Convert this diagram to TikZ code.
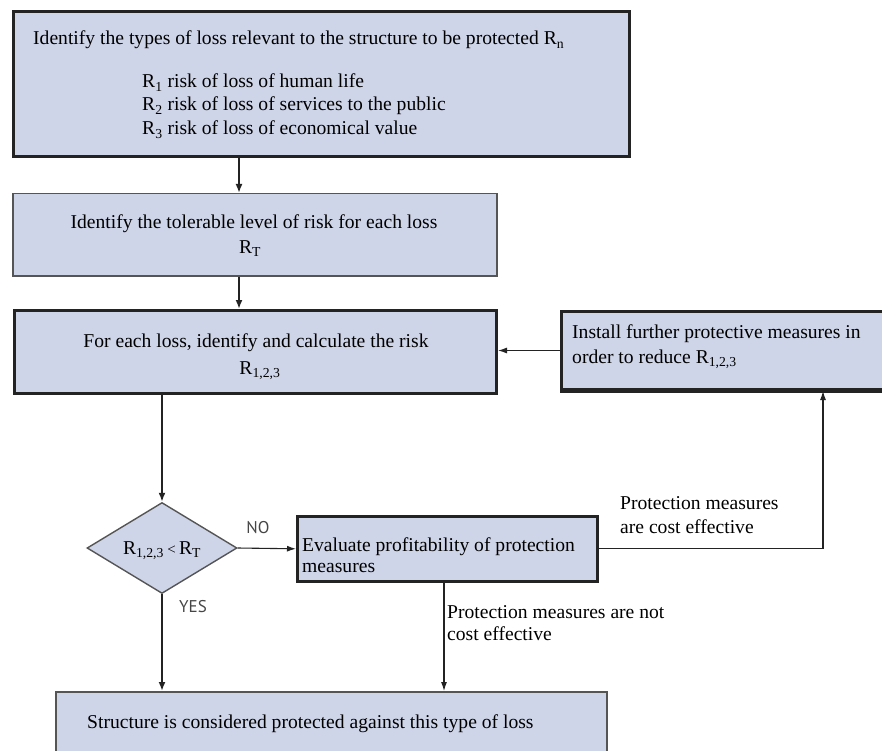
\documentclass[tikz,border=0pt]{standalone}
\usepackage{fontspec}
\setmainfont{Liberation Serif}
\newfontfamily\tagfont{PT Sans}
\usetikzlibrary{arrows.meta,shapes.geometric}
\definecolor{boxfill}{RGB}{207,213,232}
\definecolor{edgedark}{RGB}{35,35,35}
\definecolor{edgesoft}{RGB}{85,85,85}
\definecolor{tagcol}{RGB}{70,70,70}
\begin{document}
\begin{tikzpicture}[x=1pt,y=-1pt,
  every node/.style={font=\fontsize{19.6}{23}\selectfont},
  heavybox/.style={draw=edgedark, fill=boxfill, line width=3pt, inner sep=0pt, anchor=north west},
  lightbox/.style={draw=edgesoft, fill=boxfill, line width=1.5pt, inner sep=0pt, anchor=north west},
  decision/.style={diamond, draw=edgesoft, fill=boxfill, line width=1.4pt, inner sep=0pt, aspect=1.65},
  txt/.style={inner sep=0pt, anchor=base west},
  ctxt/.style={inner sep=0pt, anchor=base},
  tag/.style={inner sep=0pt, text=tagcol, font=\tagfont\fontsize{17}{20}\selectfont},
  mainflow/.style={draw=edgedark, line width=2.2pt, -{Latex[length=9pt,width=7pt]}},
  sideflow/.style={draw=edgedark, line width=1.1pt, -{Latex[length=9pt,width=6pt]}}]
\useasboundingbox (0,0) rectangle (882,751);
\clip (0,0) rectangle (882,751);

% boxes
\node[heavybox, minimum width=616, minimum height=145] (b1) at (12,10) {};
\node[lightbox, minimum width=484, minimum height=82] (b2) at (12,193) {};
\node[heavybox, minimum width=482, minimum height=83] (b3) at (13,309) {};
\node[heavybox, minimum width=340, minimum height=78] (b4) at (560,310) {};
\draw[edgedark, line width=4.5pt] (b4.south west) -- (b4.south east);
\node[heavybox, line width=2.6pt, minimum width=300, minimum height=65] (b5) at (296,515) {};
\node[lightbox, minimum width=551, minimum height=80] (b6) at (55,691) {};
\node[decision, minimum width=150, minimum height=91] (d1) at (162,548) {};

% texts
\node[txt] (t1a) at (33,45) {Identify the types of loss relevant to the structure to be protected R\textsubscript{n}};
\node[txt] (t1b) at (142,88) {R\textsubscript{1} risk of loss of human life};
\node[txt] (t1c) at (142,111) {R\textsubscript{2} risk of loss of services to the public};
\node[txt] (t1d) at (142,135) {R\textsubscript{3} risk of loss of economical value};

\node[ctxt] (t2a) at (254,228) {Identify the tolerable level of risk for each loss};
\node[ctxt] (t2b) at (250,253) {R\textsubscript{T}};

\node[ctxt] (t3a) at (256,347) {For each loss, identify and calculate the risk};
\node[ctxt] (t3b) at (260,374) {R\textsubscript{1,2,3}};

\node[txt] (t4a) at (572,338) {Install further protective measures in};
\node[txt] (t4b) at (572,363) {order to reduce R\textsubscript{1,2,3}};

\node[txt] (t5a) at (302,551) {Evaluate profitability of protection};
\node[txt] (t5b) at (302,572) {measures};

\node[txt] (t6) at (87,728) {Structure is considered protected against this type of loss};

\node[ctxt] (td) at (162,554) {R\textsubscript{1,2,3}\,{\fontsize{15}{15}\selectfont<}\,R\textsubscript{T}};

\node[txt] (l1a) at (620,509) {Protection measures};
\node[txt] (l1b) at (620,533) {are cost effective};
\node[txt] (l2a) at (447,618) {Protection measures are not};
\node[txt] (l2b) at (447,640) {cost effective};

\node[tag] (no) at (258,528) {NO};
\node[tag] (yes) at (193,607) {YES};

% guide positions for vertical runs
\coordinate (spine) at (239,0);
\coordinate (riser) at (823,0);
\coordinate (drop) at (444,0);

% connectors
\draw[mainflow] (b1.south -| spine) -- (b2.north -| spine);
\draw[mainflow] (b2.south -| spine) -- (b3.north -| spine);
\draw[mainflow] (b3.south -| d1) -- (d1.north);
\draw[mainflow] (d1.south) -- (b6.north -| d1);
\draw[sideflow] (d1.east) -- (b5.west);
\draw[sideflow] (b5.south -| drop) -- (b6.north -| drop);
\draw[sideflow] (b5.east) -| (b4.south -| riser);
\draw[sideflow] (b4.west) -- (b3.east |- b4.west);
\end{tikzpicture}
\end{document}
